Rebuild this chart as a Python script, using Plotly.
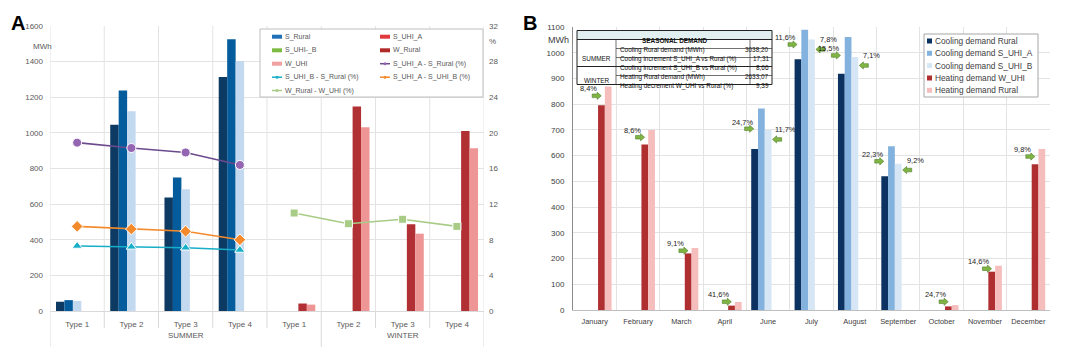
import plotly.graph_objects as go

# ---------------- DATA ----------------
# Panel A
a_groups = ["SUMMER", "WINTER"]
a_types = ["Type 1", "Type 2", "Type 3", "Type 4", "Type 1", "Type 2", "Type 3", "Type 4"]
s_rural = [52, 1045, 637, 1313, None, None, None, None]
s_uhi_a = [61, 1238, 749, 1526, None, None, None, None]
s_uhi_b = [56, 1122, 684, 1404, None, None, None, None]
w_rural = [None, None, None, None, 42, 1148, 487, 1011]
w_uhi = [None, None, None, None, 36, 1032, 434, 914]
pct_a_rural = [18.9, 18.3, 17.8, 16.4, None, None, None, None]
pct_b_rural = [7.3, 7.2, 7.1, 6.85, None, None, None, None]
pct_a_b = [9.5, 9.2, 8.95, 8.0, None, None, None, None]
pct_w = [None, None, None, None, 11.0, 9.8, 10.3, 9.5]

# Panel B
months = ["January", "February", "March", "April", "June", "July", "August",
          "September", "October", "November", "December"]
cool_rural = [None, None, None, None, 626, 975, 918, 520, None, None, None]
cool_uhi_a = [None, None, None, None, 783, 1089, 1061, 636, None, None, None]
cool_uhi_b = [None, None, None, None, 700, 1051, 983, 568, None, None, None]
heat_w_uhi = [796, 643, 220, 17, None, None, None, None, 14, 149, 567]
heat_rural = [869, 700, 241, 31, None, None, None, None, 19, 172, 626]
heat_pct = ["8,4%", "8,6%", "9,1%", "41,6%", None, None, None, None, "24,7%", "14,6%", "9,8%"]
cool_a_pct = [None, None, None, None, "24,7%", "11,6%", "15,5%", "22,3%", None, None, None]
cool_b_pct = [None, None, None, None, "11,7%", "7,8%", "7,1%", "9,2%", None, None, None]

table_rows = [
    ("Cooling Rural demand (MWh)", "3038,20"),
    ("Cooling increment S_UHI_A vs Rural (%)", "17,31"),
    ("Cooling increment S_UHI_B vs Rural (%)", "8,66"),
    ("Heating Rural demand (MWh)", "2633,07"),
    ("Heating decrement W_UHI vs Rural (%)", "9,39"),
]

# ---------------- HELPERS ----------------
W, H = 1072, 347
FONT = "Liberation Sans, Arial, sans-serif"
GREY = "#595959"


def px(x):
    return x / W


def py(y):
    return 1 - y / H


fig = go.Figure()
xa = list(range(len(a_types)))

# ---------------- PANEL A ----------------
bar_a = [
    (s_rural, "S_Rural", "#0D3A63"),
    (s_uhi_a, "S_UHI_A", "#045C9C"),
    (s_uhi_b, "S_UHI-_B", "#C3D9EF"),
    (w_rural, "W_Rural", "#B03034"),
    (w_uhi, "W_UHI", "#EE9696"),
]
for vals, name, col in bar_a:
    fig.add_trace(go.Bar(x=xa, y=vals, name=name, marker=dict(color=col, line=dict(width=0)),
                         xaxis="x", yaxis="y", showlegend=False))

line_a = [
    (pct_a_rural, "S_UHI_A - S_Rural (%)", "#6B4A8E", "#9466B2", "circle", 9),
    (pct_b_rural, "S_UHI_B - S_Rural (%)", "#17AFC8", "#17AFC8", "triangle-up", 9),
    (pct_a_b, "S_UHI_A - S_UHI_B (%)", "#F58A2C", "#F58A2C", "diamond", 9),
    (pct_w, "W_Rural - W_UHI (%)", "#A8CC86", "#A8CC86", "square", 8),
]
for vals, name, lc, mc, sym, sz in line_a:
    fig.add_trace(go.Scatter(x=xa, y=vals, name=name, mode="lines+markers",
                             line=dict(color=lc, width=1.6),
                             marker=dict(color=mc, symbol=sym, size=sz, line=dict(color="white", width=1)),
                             xaxis="x", yaxis="y2", showlegend=False, connectgaps=False))

# ---------------- PANEL B ----------------
bar_b = [
    (cool_rural, "Cooling demand Rural", "#0B3261"),
    (cool_uhi_a, "Cooling demand S_UHI_A", "#82B2DD"),
    (cool_uhi_b, "Cooling demand S_UHI_B", "#D7E6F4"),
    (heat_w_uhi, "Heating demand W_UHI", "#AF2F30"),
    (heat_rural, "Heating demand Rural", "#F6BDBD"),
]
for vals, name, col in bar_b:
    fig.add_trace(go.Bar(x=months, y=vals, name=name, marker=dict(color=col, line=dict(width=0)),
                         xaxis="x2", yaxis="y3", showlegend=False))

shapes = []
annots = []

# ---- panel A category boundaries: grid lines, tick marks, group dividers ----
A_TOP, A_BOT = 26, 311
n_a = len(a_types)
for i in range(n_a + 1):
    xb = i - 0.5
    shapes.append(dict(type="line", xref="x", yref="paper", x0=xb, x1=xb,
                       y0=py(A_BOT), y1=py(A_TOP), line=dict(color="#E3E3E3", width=1), layer="below"))
    y_end = 347 if i in (0, 5, n_a) else 328
    shapes.append(dict(type="line", xref="x", yref="paper", x0=xb, x1=xb,
                       y0=py(y_end), y1=py(A_BOT), line=dict(color="#D9D9D9", width=1), layer="below"))
# group labels (SUMMER spans first 5 categories, WINTER last 3, as in the original)
annots.append(dict(x=(-0.5 + 4.5) / 2, y=py(342), xref="x", yref="paper", text=a_groups[0],
                   showarrow=False, font=dict(family=FONT, size=8, color=GREY)))
annots.append(dict(x=(4.5 + 7.5) / 2, y=py(342), xref="x", yref="paper", text=a_groups[1],
                   showarrow=False, font=dict(family=FONT, size=8, color=GREY)))

# ---- arrows + labels in panel B ----
ARROW_R = "M -4.5,-1.8 L 0.5,-1.8 L 0.5,-3.6 L 4.6,0 L 0.5,3.6 L 0.5,1.8 L -4.5,1.8 Z"
ARROW_L = "M 4.5,-1.8 L -0.5,-1.8 L -0.5,-3.6 L -4.6,0 L -0.5,3.6 L -0.5,1.8 L 4.5,1.8 Z"


def add_arrow(i, yval, xoff, right, label, ldx, ldy):
    path = ARROW_R if right else ARROW_L
    parts = []
    for tok in path.split(" "):
        if "," in tok:
            a, b = tok.split(",")
            parts.append(f"{float(a) + xoff:.2f},{float(b):.2f}")
        else:
            parts.append(tok)
    shapes.append(dict(type="path", xref="x2", yref="y3", xsizemode="pixel", ysizemode="pixel",
                       xanchor=i, yanchor=yval, path=" ".join(parts),
                       fillcolor="#80B544", line=dict(color="#4F7D2A", width=0.6), layer="above"))
    annots.append(dict(x=i, y=yval, xref="x2", yref="y3", text=label, showarrow=False,
                       xshift=xoff + ldx, yshift=ldy, font=dict(family=FONT, size=7.4, color="#1A1A1A")))


for i, m in enumerate(months):
    if heat_pct[i]:
        yv = max((heat_w_uhi[i] + heat_rural[i]) / 2, 32)
        add_arrow(i, yv, 2, True, heat_pct[i], -8, 7)
    if cool_a_pct[i]:
        yv = (cool_rural[i] + cool_uhi_a[i]) / 2
        add_arrow(i, yv, -19, True, cool_a_pct[i], -7, 6.5)
    if cool_b_pct[i]:
        yv = (cool_rural[i] + cool_uhi_b[i]) / 2
        add_arrow(i, yv, 9, False, cool_b_pct[i], 8, 9.5)

# ---------------- LEGEND A (drawn) ----------------
shapes.append(dict(type="rect", xref="paper", yref="paper", x0=px(260), x1=px(483), y0=py(97), y1=py(29),
                   fillcolor="white", line=dict(color="#BFBFBF", width=1), layer="above"))
leg_a = [
    ("S_Rural", "bar", "#1F70B6", None),
    ("S_UHI_A", "bar", "#E03A3E", None),
    ("S_UHI-_B", "bar", "#7DBB42", None),
    ("W_Rural", "bar", "#B02A2A", None),
    ("W_UHI", "bar", "#F0A0A0", None),
    ("S_UHI_A - S_Rural (%)", "line", "#6B4A8E", "#9466B2"),
    ("S_UHI_B - S_Rural (%)", "line", "#17AFC8", "#17AFC8"),
    ("S_UHI_A - S_UHI_B (%)", "line", "#F58A2C", "#F58A2C"),
    ("W_Rural - W_UHI (%)", "line", "#A8CC86", "#A8CC86"),
]
rows_y = [36.7, 50.3, 63.7, 77.2, 90.5]
cols_x = [272, 380]
for k, (name, kind, col, mcol) in enumerate(leg_a):
    r, c = divmod(k, 2)
    x0 = cols_x[c]
    yc = rows_y[r]
    if kind == "bar":
        shapes.append(dict(type="rect", xref="paper", yref="paper", x0=px(x0), x1=px(x0 + 10),
                           y0=py(yc + 2), y1=py(yc - 2), fillcolor=col, line=dict(width=0), layer="above"))
    else:
        shapes.append(dict(type="line", xref="paper", yref="paper", x0=px(x0), x1=px(x0 + 10),
                           y0=py(yc), y1=py(yc), line=dict(color=col, width=1.5), layer="above"))
        shapes.append(dict(type="circle", xref="paper", yref="paper", x0=px(x0 + 3.5), x1=px(x0 + 6.5),
                           y0=py(yc + 1.5), y1=py(yc - 1.5), fillcolor=mcol, line=dict(width=0), layer="above"))
    annots.append(dict(x=px(x0 + 11), y=py(yc), xref="paper", yref="paper", text=name, showarrow=False,
                       xanchor="left", yanchor="middle", font=dict(family=FONT, size=7, color=GREY)))

# ---------------- LEGEND B (drawn) ----------------
shapes.append(dict(type="rect", xref="paper", yref="paper", x0=px(924), x1=px(1038), y0=py(97), y1=py(34),
                   fillcolor="white", line=dict(color="#A6A6A6", width=1), layer="above"))
rows_b = [41, 53.3, 65.6, 78, 90.3]
for k, (vals, name, col) in enumerate(bar_b):
    yc = rows_b[k]
    shapes.append(dict(type="rect", xref="paper", yref="paper", x0=px(927), x1=px(932),
                       y0=py(yc + 2.5), y1=py(yc - 2.5), fillcolor=col, line=dict(width=0), layer="above"))
    annots.append(dict(x=px(933), y=py(yc), xref="paper", yref="paper", text=name, showarrow=False,
                       xanchor="left", yanchor="middle", font=dict(family=FONT, size=8.3, color="#404040")))

# ---------------- TABLE (drawn) ----------------
tl, tr = 577, 772
c1, c2 = 616, 750
ttop, thead = 30.5, 39.5
rh = 9.0
tb = thead + 5 * rh
shapes.append(dict(type="rect", xref="paper", yref="paper", x0=px(tl), x1=px(tr), y0=py(tb), y1=py(ttop),
                   fillcolor="white", line=dict(width=0), layer="above"))
shapes.append(dict(type="rect", xref="paper", yref="paper", x0=px(tl), x1=px(tr), y0=py(thead), y1=py(ttop),
                   fillcolor="#E2EFF0", line=dict(width=0), layer="above"))
line_style = dict(color="#333333", width=0.7)
for yy in [thead + rh, thead + 2 * rh, thead + 4 * rh]:
    shapes.append(dict(type="line", xref="paper", yref="paper", x0=px(c1), x1=px(tr), y0=py(yy), y1=py(yy),
                       line=line_style, layer="above"))
for yy in [thead, thead + 3 * rh]:
    shapes.append(dict(type="line", xref="paper", yref="paper", x0=px(tl), x1=px(tr), y0=py(yy), y1=py(yy),
                       line=dict(color="#222222", width=1.1), layer="above"))
for xx in [c1, c2]:
    shapes.append(dict(type="line", xref="paper", yref="paper", x0=px(xx), x1=px(xx), y0=py(thead), y1=py(tb),
                       line=line_style, layer="above"))
shapes.append(dict(type="rect", xref="paper", yref="paper", x0=px(tl), x1=px(tr), y0=py(tb), y1=py(ttop),
                   line=dict(color="#222222", width=1), layer="above"))
tfont = dict(family=FONT, size=6.4, color="#111111")
annots.append(dict(x=px((tl + tr) / 2), y=py((ttop + thead) / 2), xref="paper", yref="paper",
                   text="<b>SEASONAL DEMAND</b>", showarrow=False, font=tfont))
annots.append(dict(x=px((tl + c1) / 2), y=py(thead + 1.5 * rh), xref="paper", yref="paper",
                   text="SUMMER", showarrow=False, font=tfont))
annots.append(dict(x=px((tl + c1) / 2), y=py(thead + 4 * rh), xref="paper", yref="paper",
                   text="WINTER", showarrow=False, font=tfont))
for k, (lab, val) in enumerate(table_rows):
    yc = thead + (k + 0.5) * rh
    annots.append(dict(x=px(c1 + 2), y=py(yc), xref="paper", yref="paper", text=lab, showarrow=False,
                       xanchor="left", font=tfont))
    annots.append(dict(x=px(tr - 1.5), y=py(yc), xref="paper", yref="paper", text=val, showarrow=False,
                       xanchor="right", font=tfont))

# ---------------- OTHER TEXT ----------------
annots += [
    dict(x=px(9), y=py(10), xref="paper", yref="paper", text="<b>A</b>", showarrow=False,
         font=dict(family=FONT, size=20, color="black")),
    dict(x=px(530), y=py(10), xref="paper", yref="paper", text="<b>B</b>", showarrow=False,
         font=dict(family=FONT, size=20, color="black")),
    dict(x=px(31), y=py(40), xref="paper", yref="paper", text="MWh", showarrow=False,
         font=dict(family=FONT, size=8, color=GREY)),
    dict(x=px(492), y=py(35), xref="paper", yref="paper", text="%", showarrow=False,
         font=dict(family=FONT, size=8, color=GREY)),
    dict(x=px(558), y=py(33), xref="paper", yref="paper", text="MWh", showarrow=False,
         font=dict(family=FONT, size=9, color="#404040")),
]

tickA = dict(family=FONT, size=8, color=GREY)
tickB = dict(family=FONT, size=8, color="#404040")
fig.update_layout(
    width=W, height=H, margin=dict(l=0, r=0, t=0, b=0, autoexpand=False),
    paper_bgcolor="white", plot_bgcolor="white",
    barmode="group", bargap=0.22, bargroupgap=0,
    showlegend=False,
    xaxis=dict(domain=[px(50), px(484)], anchor="y", range=[-0.5, n_a - 0.5],
               tickmode="array", tickvals=xa, ticktext=a_types,
               showgrid=False, ticks="", tickfont=tickA, ticklabelstandoff=5,
               showline=True, linecolor="#D9D9D9", zeroline=False),
    yaxis=dict(domain=[py(A_BOT), py(A_TOP)], anchor="x", range=[0, 1600], dtick=200,
               showgrid=True, gridcolor="#E3E3E3", tickfont=tickA, ticks="",
               ticklabelstandoff=6, zeroline=False, showline=False),
    yaxis2=dict(overlaying="y", anchor="x", side="right", range=[0, 32], dtick=4,
                showgrid=False, tickfont=tickA, ticks="", ticklabelstandoff=4, zeroline=False),
    xaxis2=dict(domain=[px(573), px(1050)], anchor="y3", type="category", tickson="boundaries",
                showgrid=True, gridcolor="#E3E3E3", ticks="", tickangle=0,
                tickfont=dict(family=FONT, size=7.4, color="#404040"), ticklabelstandoff=4,
                showline=True, linecolor="#BFBFBF", zeroline=False),
    yaxis3=dict(domain=[py(310), py(27)], anchor="x2", range=[0, 1100], dtick=100,
                showgrid=True, gridcolor="#E3E3E3", tickfont=tickB, ticks="",
                ticklabelstandoff=6, zeroline=False, showline=True, linecolor="#8C8C8C"),
    shapes=shapes,
    annotations=annots,
    font=dict(family=FONT),
)

fig.write_html("out.html", config={"displayModeBar": False, "staticPlot": True},
               post_script="document.body.style.margin='0px';document.body.style.overflow='hidden';")
